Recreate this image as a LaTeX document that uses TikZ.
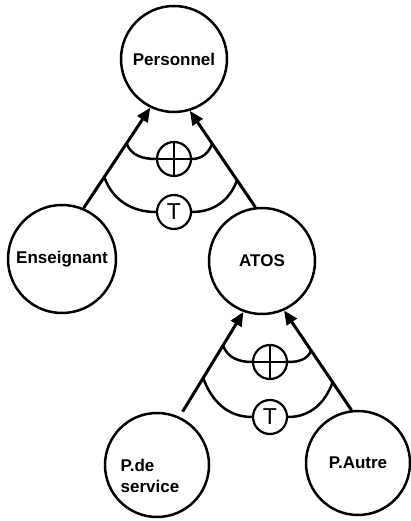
\documentclass[tikz,border=0pt]{standalone}
\usepackage{fontspec}
\setmainfont{Liberation Sans}
\usetikzlibrary{arrows.meta}
\tikzset{
  entity/.style={circle,draw,line width=2.5pt,inner sep=0pt,font=\fontsize{17}{21}\selectfont\bfseries},
  entitytext/.style={align=left,inner sep=0pt,font=\fontsize{17}{21}\selectfont\bfseries},
  junction/.style={circle,draw,line width=2.2pt,minimum size=34pt,inner sep=0pt,font=\fontsize{23}{23}\selectfont},
  isa/.style={line width=3pt,-{Triangle[length=14pt,width=12pt]}},
  link/.style={line width=2.5pt}
}
\begin{document}
\begin{tikzpicture}[x=1pt,y=1pt]
    \useasboundingbox (0,0) rectangle (410,521);
    \draw (174,462) node (pers) [entity,minimum size=106pt] {Personnel};
    \draw (62,262) node (ens) [entity,minimum size=108pt] {Enseignant};
    \draw (262,260) node (atos) [entity,minimum size=106pt] {ATOS};
    \draw (157,56) node (pds) [entity,minimum size=104pt] {};
    \draw (150,45) node (pdstext) [entitytext] {P.de\\service};
    \draw (358,58) node (paut) [entity,minimum size=104pt] {P.Autre};

    \draw (174,362) node (plus1) [junction] {};
    \draw (174,309) node (tot1) [junction] {T};
    \draw (270,159) node (plus2) [junction] {};
    \draw (270,104) node (tot2) [junction] {T};
    \draw [line width=2.2pt] (plus1.north) -- (plus1.south) (plus1.west) -- (plus1.east);
    \draw [line width=2.2pt] (plus2.north) -- (plus2.south) (plus2.west) -- (plus2.east);

    \draw [isa] (ens.67) -- coordinate [pos=0.31] (l1t) coordinate [pos=0.645] (l1p) (pers.244);
    \draw [isa] (atos.97.5) -- coordinate [pos=0.28] (r1t) coordinate [pos=0.66] (r1p) (pers.287);
    \draw [isa,shorten <=6pt] (pds.65) -- coordinate [pos=0.37] (l2t) coordinate [pos=0.68] (l2p) (atos.250);
    \draw [isa] (paut.97) -- coordinate [pos=0.28] (r2t) coordinate [pos=0.6] (r2p) (atos.294.5);

    \draw [link] (l1p) to [out=-70,in=180] (plus1.west) (plus1.east) to [out=0,in=-110] (r1p);
    \draw [link] (l1t) to [out=-70,in=180] (tot1.west) (tot1.east) to [out=0,in=-110] (r1t);
    \draw [link] (l2p) to [out=-70,in=180] (plus2.west) (plus2.east) to [out=0,in=-110] (r2p);
    \draw [link] (l2t) to [out=-70,in=180] (tot2.west) (tot2.east) to [out=0,in=-110] (r2t);
\end{tikzpicture}
\end{document}
